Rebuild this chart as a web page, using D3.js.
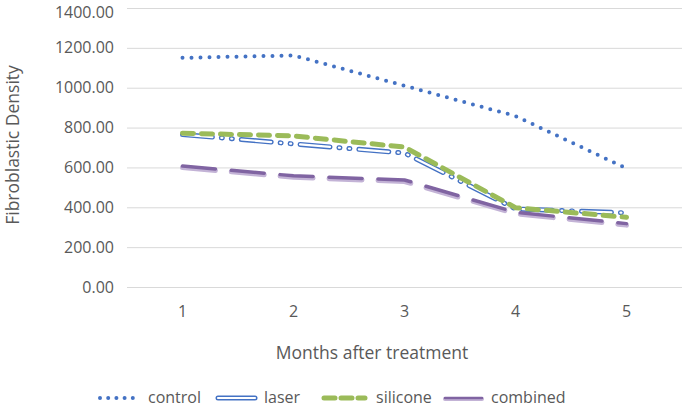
<!DOCTYPE html>
<html>
<head>
<meta charset="utf-8">
<script src="https://cdn.jsdelivr.net/npm/d3@7"></script>
<style>
  body { margin: 0; background: #fff; }
  text { font-family: "Open Sans", sans-serif; fill: #595959; }
</style>
</head>
<body>
<div id="chart"></div>
<script>
// data
const months = ['1', '2', '3', '4', '5'];
const control = [1150, 1162, 1010, 858, 595];
const laser = [765, 718, 672, 392, 372];
const silicone = [772, 758, 702, 398, 350];
const combined = [607, 558, 537, 375, 318];
const yTicks = [0, 200, 400, 600, 800, 1000, 1200, 1400];

const seriesNames = ['control', 'laser', 'silicone', 'combined'];
const seriesVals = [control, laser, silicone, combined];

const dms = { width: 685, height: 407, left: 127, right: 3, top: 8, bottom: 120 };

const svg = d3.select('#chart').append('svg')
    .attr('width', dms.width)
    .attr('height', dms.height);

const x = d3.scalePoint()
    .domain(months)
    .range([dms.left, dms.width - dms.right])
    .padding(0.5);

const y = d3.scaleLinear()
    .domain([0, 1400])
    .range([dms.height - dms.bottom, dms.top]);

// gridlines
svg.append('g')
    .selectAll('line')
    .data(yTicks)
    .join('line')
    .attr('x1', dms.left)
    .attr('x2', dms.width - dms.right)
    .attr('y1', d => y(d) + 0.5)
    .attr('y2', d => y(d) + 0.5)
    .attr('stroke', '#d9d9d9')
    .attr('stroke-width', 1);

// y tick labels (top one nudged so it stays inside the page)
svg.append('g')
    .selectAll('text')
    .data(yTicks)
    .join('text')
    .attr('x', 114)
    .attr('y', d => Math.max(y(d), 12))
    .attr('dy', '0.35em')
    .attr('text-anchor', 'end')
    .style('font-size', '16px')
    .text(d => d.toFixed(2));

// x tick labels
svg.append('g')
    .selectAll('text')
    .data(months)
    .join('text')
    .attr('x', d => x(d))
    .attr('y', 311)
    .attr('dy', '0.35em')
    .attr('text-anchor', 'middle')
    .style('font-size', '16px')
    .text(d => d);

// axis titles
svg.append('text')
    .attr('x', 372)
    .attr('y', 353)
    .attr('dy', '0.35em')
    .attr('text-anchor', 'middle')
    .style('font-size', '17.5px')
    .text('Months after treatment');

svg.append('text')
    .attr('transform', 'translate(13,145) rotate(-90)')
    .attr('dy', '0.35em')
    .attr('text-anchor', 'middle')
    .style('font-size', '17.5px')
    .text('Fibroblastic Density');

// line styles, one per series
const styles = {
    control: [{ stroke: '#4472c4', width: 4, dash: '0 9', cap: 'round' }],
    laser: [
        { stroke: '#4472c4', width: 5, dash: '30 9 1 9 1 9', cap: 'round' },
        { stroke: '#ffffff', width: 2.2, dash: '30 9 1 9 1 9', cap: 'round' }
    ],
    silicone: [{ stroke: '#9bbb59', width: 5, dash: '11 8', cap: 'round' }],
    combined: [
        { stroke: '#c3b3d6', width: 5, dash: '33 16', cap: 'round', dy: 1.5 },
        { stroke: '#8064a2', width: 3.5, dash: '33 16', cap: 'round' }
    ]
};

const lineGen = d3.line()
    .x((d, i) => x(months[i]))
    .y(d => y(d));

const lines = svg.append('g').attr('id', 'lines');
seriesNames.forEach((name, k) => {
    styles[name].forEach(s => {
        lines.append('path')
            .datum(seriesVals[k])
            .attr('d', lineGen)
            .attr('transform', `translate(0,${s.dy || 0})`)
            .attr('fill', 'none')
            .attr('stroke', s.stroke)
            .attr('stroke-width', s.width)
            .attr('stroke-dasharray', s.dash)
            .attr('stroke-linecap', s.cap)
            .attr('stroke-linejoin', 'round');
    });
});

// legend
const legendX = [98, 218, 322, 445];
const legendW = [41, 37, 45, 37];
const legendY = 397;
const legend = svg.append('g').attr('id', 'legend');
seriesNames.forEach((name, k) => {
    styles[name].forEach(s => {
        let dash = s.dash;
        if (name === 'laser' || name === 'combined') dash = null;
        if (name === 'control') dash = '0 8.2';
        if (name === 'silicone') dash = '11 6';
        legend.append('line')
            .attr('x1', legendX[k] + (name === 'control' || name === 'silicone' ? 2 : 0))
            .attr('x2', legendX[k] + legendW[k] - (name === 'silicone' ? 2 : 0))
            .attr('y1', legendY + 1 + (s.dy ? 1 : 0))
            .attr('y2', legendY + 1 + (s.dy ? 1 : 0))
            .attr('stroke', s.stroke)
            .attr('stroke-width', name === 'combined' ? s.width - 1 : s.width)
            .attr('stroke-dasharray', dash)
            .attr('stroke-linecap', s.cap);
    });
    legend.append('text')
        .attr('x', legendX[k] + legendW[k] + 9)
        .attr('y', legendY)
        .attr('dy', '0.35em')
        .style('font-size', '16px')
        .text(name);
});
</script>
</body>
</html>
